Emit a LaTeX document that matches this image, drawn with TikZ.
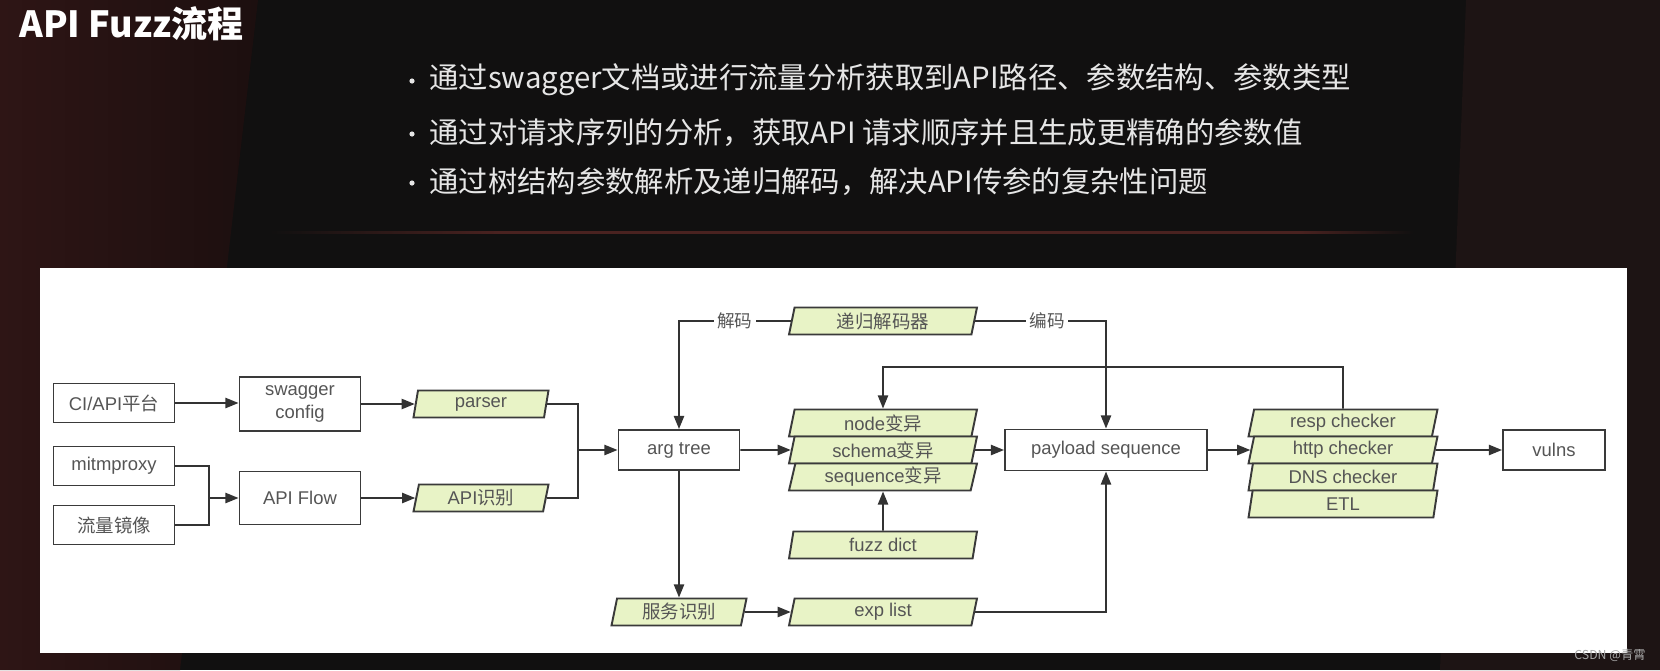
\documentclass[tikz,border=0pt]{standalone}
\usepackage{fontspec}
\usetikzlibrary{shapes.geometric,arrows.meta,calc}
\newfontfamily\latf{Liberation Sans}
\newfontfamily\cjkf{Noto Sans CJK SC}
\newcommand\zh[1]{{\cjkf #1}}
\definecolor{bgbase}{HTML}{111010}
\definecolor{bgleft}{HTML}{2E1515}
\definecolor{bgleftb}{HTML}{1C0F0F}
\definecolor{bgright}{HTML}{1D1414}
\definecolor{divc}{HTML}{4A2220}
\definecolor{boxc}{HTML}{3A3A3A}
\definecolor{txtc}{HTML}{555555}
\definecolor{linec}{HTML}{333333}
\definecolor{paraf}{HTML}{E8F3C6}
\definecolor{bullc}{HTML}{E6E6E6}
\tikzset{
  box/.style={draw=boxc, line width=1.1pt, fill=white, rectangle, inner sep=0pt,
    text=txtc, font=\latf\fontsize{10.5}{13}\selectfont, align=center},
  para/.style={trapezium, trapezium left angle=72, trapezium right angle=108,
    trapezium stretches body, draw=boxc, line width=1.1pt, fill=paraf, inner sep=0pt,
    text=txtc, font=\latf\fontsize{10.5}{13}\selectfont, minimum height=0.54cm},
  ln/.style={draw=linec, line width=1.1pt},
  arr/.style={ln, -{Triangle[length=7.5pt,width=5.8pt]}},
  lbl/.style={fill=white, inner sep=2pt, text=txtc, font=\cjkf\fontsize{10}{12}\selectfont},
  bul/.style={anchor=west, text=bullc, font=\cjkf\fontsize{16.7}{20}\selectfont, inner sep=0pt},
}
\begin{document}
\begin{tikzpicture}[x=0.02cm, y=-0.02cm]
\useasboundingbox (0,0) rectangle (1660,670);
% background
\fill[bgbase] (0,0) rectangle (1660,670);
\shade[left color=bgleft, right color=bgleftb] (0,0) -- (258,0) -- (180,670) -- (0,670) -- cycle;
\fill[bgright] (1466,0) -- (1660,0) -- (1660,670) -- (1440,670) -- cycle;
% title and bullets
\node[anchor=west, text=white, font=\cjkf\bfseries\fontsize{20.5}{24}\selectfont, inner sep=0pt] (title) at (19,24) {API Fuzz流程};
\fill[bullc] (412,81) circle (2.6);
\fill[bullc] (412,134) circle (2.6);
\fill[bullc] (412,183) circle (2.6);
\node[bul] (b1) at (429,80) {通过swagger文档或进行流量分析获取到API路径、参数结构、参数类型};
\node[bul] (b2) at (429,133) {通过对请求序列的分析，获取API 请求顺序并且生成更精确的参数值};
\node[bul] (b3) at (429,182) {通过树结构参数解析及递归解码，解决API传参的复杂性问题};
\shade[left color=bgbase, right color=divc] (270,231) rectangle (500,233.5);
\fill[divc] (500,231) rectangle (1300,233.5);
\shade[left color=divc, right color=bgbase] (1300,231) rectangle (1413,233.5);
% panel
\fill[white] (40,268) rectangle (1627,653);
% nodes
\node[box, minimum width=2.42cm, minimum height=0.78cm] (ci) at (114,403) {CI/API\zh{平台}};
\node[box, minimum width=2.42cm, minimum height=0.78cm] (mitm) at (114,466) {mitmproxy};
\node[box, minimum width=2.42cm, minimum height=0.78cm] (mirror) at (114,525) {\zh{流量镜像}};
\node[box, minimum width=2.42cm, minimum height=1.08cm] (swag) at (300,404) {swagger\\config};
\node[box, minimum width=2.42cm, minimum height=1.06cm] (flow) at (300,498) {API Flow};
\node[para, minimum width=2.7cm] (parser) at (481,404) {parser};
\node[para, minimum width=2.7cm] (apiid) at (481,498) {API\zh{识别}};
\node[box, minimum width=2.42cm, minimum height=0.8cm] (arg) at (679,450) {arg tree};
\node[para, minimum width=3.76cm] (dec) at (883,321) {\zh{递归解码器}};
\node[para, minimum width=3.76cm] (mnode) at (883,423) {node\zh{变异}};
\node[para, minimum width=3.76cm] (mschema) at (883,450) {schema\zh{变异}};
\node[para, minimum width=3.76cm] (mseq) at (883,477) {sequence\zh{变异}};
\node[para, minimum width=3.76cm] (fuzz) at (883,545) {fuzz dict};
\node[para, minimum width=2.7cm] (svc) at (679,612) {\zh{服务识别}};
\node[para, minimum width=3.76cm] (exp) at (883,612) {exp list};
\node[box, minimum width=4.04cm, minimum height=0.82cm] (pay) at (1106,450) {payload sequence};
\node[para, minimum width=3.78cm] (resp) at (1343,423) {resp checker};
\node[para, minimum width=3.78cm] (http) at (1343,450) {http checker};
\node[para, minimum width=3.78cm] (dns) at (1343,477) {DNS checker};
\node[para, minimum width=3.78cm] (etl) at (1343,504) {ETL};
\node[box, minimum width=2.04cm, minimum height=0.8cm] (vul) at (1554,450) {vulns};
% junctions
\coordinate (j1) at (209,498);
\coordinate (j2) at (578,450);
\coordinate (dk) at (679,321);
\coordinate (ek) at (1106,321);
\coordinate (fb1) at (1343,367);
\coordinate (fb2) at (883,367);
% connectors
\draw[arr] (ci.east) -- (ci.east -| swag.west);
\draw[ln] (mitm.east) -| (j1);
\draw[ln] (mirror.east) -| (j1);
\draw[arr] (j1) -- (flow.west);
\draw[arr] (swag.east) -- (swag.east -| parser.west);
\draw[arr] (flow.east) -- (flow.east -| apiid.west);
\draw[ln] (parser.east) -| (j2);
\draw[ln] (apiid.east) -| (j2);
\draw[arr] (j2) -- (arg.west);
\draw[arr] (dec.west) -- node[lbl] (lbd) {解码} (dk) -- (arg.north);
\draw[arr] (dec.east) -- node[lbl, pos=0.55] (lbe) {编码} (ek) -- (pay.north);
\draw[arr] (arg.east) -- (mschema.west);
\draw[arr] (mschema.east) -- (pay.west);
\draw[arr] (fuzz.north) -- (mseq.south);
\draw[arr] (resp.north) -- (fb1) -- (fb2) -- (mnode.north);
\draw[arr] (arg.south) -- (svc.north);
\draw[arr] (svc.east) -- (exp.west);
\draw[arr] (exp.east) -| (pay.south);
\draw[arr] (pay.east) -- (http.west);
\draw[arr] (http.east) -- (vul.west);
% watermark
\node[text=gray!70, font=\cjkf\fontsize{7}{8}\selectfont, inner sep=0pt] (wm) at (1610,655) {CSDN @青霄};
\end{tikzpicture}
\end{document}
